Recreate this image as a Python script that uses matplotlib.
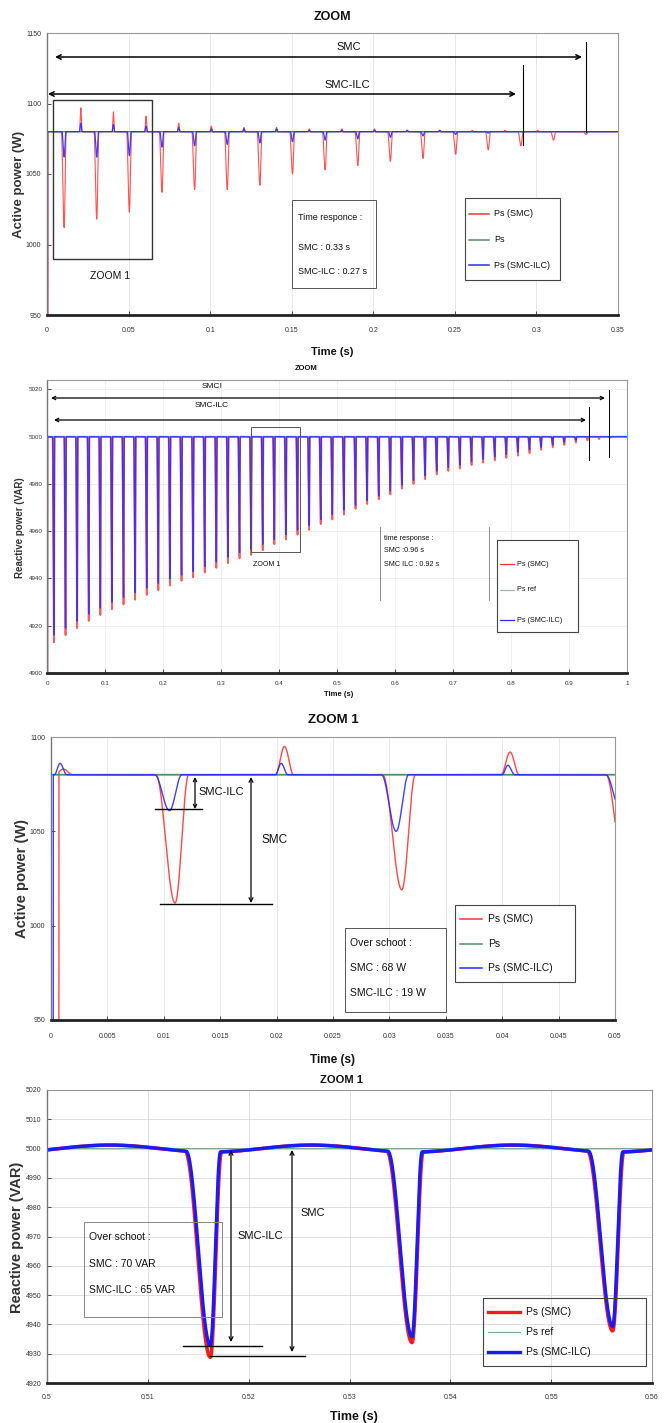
import numpy as np
import matplotlib
matplotlib.use("Agg")
import matplotlib.pyplot as plt
from matplotlib.patches import Rectangle, FancyArrowPatch
from matplotlib.lines import Line2D

plt.rcParams['font.family'] = ['Liberation Sans Narrow', 'Liberation Sans', 'DejaVu Sans']

W, H = 664, 1423

# ---------------- DATA ----------------
# Panel 1 : active power (full view)
p_ref = 1080
p1_dip_times = [0.0105, 0.0305, 0.0505, 0.0705, 0.0905, 0.1105, 0.1305, 0.1505, 0.1705,
                0.1905, 0.2105, 0.2305, 0.2505, 0.2705, 0.2905, 0.3105, 0.3305]
p1_smc_dips = [68, 62, 57, 43, 41, 41, 38, 30, 27, 24, 21, 19, 16, 13, 10, 6, 2]
p1_ilc_dips = [18, 18, 17, 11, 10, 9, 8, 7, 6, 5, 4, 3, 2, 1, 0, 0, 0]
p1_peak_times = [0.0207, 0.0407, 0.0607, 0.0807, 0.1007, 0.1207, 0.1407, 0.1607,
                 0.1807, 0.2007, 0.2207, 0.2407, 0.2607, 0.2807, 0.3007, 0.3207]
p1_smc_peaks = [17, 14, 11, 6, 4, 3, 3, 2, 2, 2, 1, 1, 1, 1, 1, 0]
p1_ilc_peaks = [6, 5, 4, 3, 2, 2, 2, 1, 1, 1, 1, 1, 0, 0, 0, 0]
p1_xticks = [0, 0.05, 0.1, 0.15, 0.2, 0.25, 0.3, 0.35]
p1_xlabels = ['0', '0.05', '0.1', '0.15', '0.2', '0.25', '0.3', '0.35']
p1_yticks = [950, 1000, 1050, 1100, 1150]

# Panel 2 : reactive power (full view)
q_ref = 5000
p2_dip_times = [0.012, 0.032, 0.052, 0.072, 0.092, 0.112, 0.132, 0.152, 0.172, 0.192,
                0.212, 0.232, 0.252, 0.272, 0.292, 0.312, 0.332, 0.352, 0.372, 0.392,
                0.412, 0.432, 0.452, 0.472, 0.492, 0.512, 0.532, 0.552, 0.572, 0.592,
                0.612, 0.632, 0.652, 0.672, 0.692, 0.712, 0.732, 0.752, 0.772, 0.792,
                0.812, 0.832, 0.852, 0.872, 0.892, 0.912, 0.932, 0.952, 0.972]
p2_smc_dips = [87, 84, 81, 78, 75.5, 73, 71, 69, 67, 65, 63, 61, 59.5, 57.5, 55.5, 53.5,
               51.5, 50, 48, 45.5, 43.5, 41.5, 39.5, 37, 35, 33, 30.5, 28.5, 26.5, 24.5,
               22, 20, 18, 16, 14.5, 13.5, 12, 11, 10, 9, 8, 7, 5.5, 4.5, 3.5, 2.5, 1.5, 1, 0.4]
p2_ilc_dips = [84, 81, 78, 75, 72.5, 70, 68, 66, 64, 62, 60, 58.5, 57, 55, 53, 51,
               49, 47.5, 45.5, 43.5, 41.5, 39.5, 37.5, 35, 33, 31, 29, 27, 25, 23,
               20.5, 18.5, 16.5, 14.5, 13, 12, 10.5, 9.5, 8.5, 7.5, 6.5, 5.5, 4.5, 3.5, 2.5, 1.5, 0, 0, 0]
p2_xticks = [0, 0.1, 0.2, 0.3, 0.4, 0.5, 0.6, 0.7, 0.8, 0.9, 1]
p2_xlabels = ['0', '0.1', '0.2', '0.3', '0.4', '0.5', '0.6', '0.7', '0.8', '0.9', '1']
p2_yticks = [4900, 4920, 4940, 4960, 4980, 5000, 5020]

# Panel 3 : active power, ZOOM 1
p3_smc_dip_times = [0.0110, 0.0311, 0.0509]
p3_ilc_dip_times = [0.0105, 0.0306, 0.0505]
p3_smc_dips = [68, 61, 55]
p3_ilc_dips = [19, 30, 19]
p3_smc_peak_times = [0.0011, 0.0207, 0.0407]
p3_ilc_peak_times = [0.0008, 0.0204, 0.0405]
p3_smc_peaks = [3, 15, 12]
p3_ilc_peaks = [6, 6, 5]
p3_xticks = [0, 0.005, 0.01, 0.015, 0.02, 0.025, 0.03, 0.035, 0.04, 0.045, 0.05]
p3_xlabels = ['0', '0.005', '0.01', '0.015', '0.02', '0.025', '0.03', '0.035', '0.04', '0.045', '0.05']
p3_yticks = [950, 1000, 1050, 1100]

# Panel 4 : reactive power, ZOOM 1
p4_dip_times = [0.5162, 0.5362, 0.5561]
p4_smc_dips = [70, 65, 61]
p4_ilc_dips = [66, 63, 59.5]
p4_ripple = 1.2
p4_xticks = [0.5, 0.51, 0.52, 0.53, 0.54, 0.55, 0.56]
p4_xlabels = ['0.5', '0.51', '0.52', '0.53', '0.54', '0.55', '0.56']
p4_yticks = [4920, 4930, 4940, 4950, 4960, 4970, 4980, 4990, 5000, 5010, 5020]

RED = '#ff3434'
BLUE = '#2b2bff'
GREEN = '#4f8f64'


def bumps(t, centers, heights, wl, wr):
    out = np.zeros_like(t)
    for c, h in zip(centers, heights):
        m = (t >= c - wl) & (t < c)
        out[m] += h * 0.5 * (1 + np.cos(np.pi * (t[m] - c) / wl))
        m = (t >= c) & (t <= c + wr)
        out[m] += h * 0.5 * (1 + np.cos(np.pi * (t[m] - c) / wr))
    return out


fig = plt.figure(figsize=(W / 100, H / 100), dpi=100)


def X(px):
    return px / W


def Y(py):
    return 1 - py / H


def add_ax(l, r, t, b):
    return fig.add_axes([X(l), Y(b), (r - l) / W, (b - t) / H])


def arrow(x0, y0, x1, y1, style='<->', lw=1.0, ms=7):
    fig.add_artist(FancyArrowPatch((X(x0), Y(y0)), (X(x1), Y(y1)), transform=fig.transFigure,
                                   arrowstyle=style, mutation_scale=ms, lw=lw, color='black',
                                   shrinkA=0, shrinkB=0))


def line(x0, y0, x1, y1, lw=1.0, color='black'):
    fig.add_artist(Line2D([X(x0), X(x1)], [Y(y0), Y(y1)], transform=fig.transFigure,
                          lw=lw, color=color))


def box(x0, y0, x1, y1, ec='black', lw=0.8, fc=None):
    fig.add_artist(Rectangle((X(x0), Y(y1)), (x1 - x0) / W, (y1 - y0) / H,
                             transform=fig.transFigure, fill=fc is not None,
                             facecolor=fc if fc else 'none', edgecolor=ec, lw=lw))


def txt(x, y, s, fs, ha='center', va='center', weight='normal', rot=0, color='#111111'):
    fig.text(X(x), Y(y), s, fontsize=fs, ha=ha, va=va, fontweight=weight,
             rotation=rot, color=color)


def legend(x0, y0, x1, y1, entries, ys, fs, hx0, hx1, tx, fill=True):
    box(x0, y0, x1, y1, ec='#444444', lw=0.8, fc='white' if fill else None)
    for (lab, col, lw), yy in zip(entries, ys):
        line(hx0, yy, hx1, yy, lw=lw, color=col)
        txt(tx, yy, lab, fs, ha='left')


def style(ax, xlim, ylim, xt, xl, yt, fs, xpad, ypad, gcol='#e4e4e4', gaxis='both'):
    ax.set_xlim(*xlim)
    ax.set_ylim(*ylim)
    ax.set_xticks(xt)
    ax.set_xticklabels(xl)
    ax.set_yticks(yt)
    ax.set_yticklabels([str(v) for v in yt])
    ax.tick_params(axis='both', direction='in', length=3, width=0.6, labelsize=fs,
                   colors='#333333')
    ax.tick_params(axis='x', pad=xpad)
    ax.tick_params(axis='y', pad=ypad)
    for s in ['top', 'right']:
        ax.spines[s].set_color('#999999')
        ax.spines[s].set_linewidth(0.8)
    ax.spines['left'].set_color('#777777')
    ax.spines['left'].set_linewidth(1.0)
    ax.spines['bottom'].set_color('#222222')
    ax.spines['bottom'].set_linewidth(2.0)
    ax.grid(True, axis=gaxis, color=gcol, lw=0.6)
    ax.set_axisbelow(True)


# ================= Panel 1 =================
ax1 = add_ax(47, 618, 33, 315)
t1 = np.linspace(0, 0.35, 35001)
smc1 = p_ref - bumps(t1, p1_dip_times, p1_smc_dips, 0.0017, 0.0013) \
    + bumps(t1, p1_peak_times, p1_smc_peaks, 0.0008, 0.0008)
ilc1 = p_ref - bumps(t1, p1_dip_times, p1_ilc_dips, 0.0013, 0.0011) \
    + bumps(t1, p1_peak_times, p1_ilc_peaks, 0.0008, 0.0008)
smc1[t1 < 0.0006] = 900
ilc1[t1 < 0.0003] = 900
ax1.plot(t1, smc1, color=RED, lw=0.8, alpha=0.85)
ax1.plot(t1, np.full_like(t1, p_ref), color=GREEN, lw=1.0)
ax1.plot(t1, ilc1, color=BLUE, lw=0.9, alpha=0.9)
style(ax1, (0, 0.35), (950, 1150), p1_xticks, p1_xlabels, p1_yticks, 5, 9, 4, gaxis='x')

txt(332, 17, 'ZOOM', 9, weight='bold')
txt(349, 47, 'SMC', 8)
arrow(55, 57, 582, 57, ms=8, lw=1.1)
line(586, 42, 586, 132, lw=0.8)
txt(347, 85, 'SMC-ILC', 8)
arrow(48, 94, 516, 94, ms=8, lw=1.1)
line(523, 65, 523, 145, lw=0.8)
box(53, 100, 152, 259, ec='#333333', lw=1.0)
txt(110, 276, 'ZOOM 1', 7.5)
box(292, 200, 376, 288, ec='#555555', lw=0.7)
txt(298, 218, 'Time responce :', 6.5, ha='left')
txt(298, 247, 'SMC : 0.33 s', 6.5, ha='left')
txt(298, 271, 'SMC-ILC : 0.27 s', 6.5, ha='left')
legend(465, 198, 560, 280,
       [('Ps (SMC)', RED, 1.1), ('Ps', GREEN, 1.1), ('Ps (SMC-ILC)', BLUE, 1.1)],
       [214, 240, 265], 6.5, 469, 489, 494)
txt(19, 184, 'Active power (W)', 9.5, rot=90, weight='bold', color='#333333')
txt(332, 352, 'Time (s)', 8, weight='bold')

# ================= Panel 2 =================
ax2 = add_ax(47, 627, 380, 673)
t2 = np.linspace(0, 1, 100001)
smc2 = q_ref - bumps(t2, p2_dip_times, p2_smc_dips, 0.0024, 0.0011)
ilc2 = q_ref - bumps(t2, p2_dip_times, p2_ilc_dips, 0.0023, 0.0010)
smc2[t2 < 0.0008] = 4880
ilc2[t2 < 0.0006] = 4880
ax2.plot(t2, smc2, color=RED, lw=1.3, alpha=0.8)
ax2.plot(t2, np.full_like(t2, q_ref), color='#9fb8a5', lw=0.8)
ax2.plot(t2, ilc2, color=BLUE, lw=1.0, alpha=0.85)
style(ax2, (0, 1), (4900, 5024), p2_xticks, p2_xlabels, p2_yticks, 4.5, 6, 3, gcol='#ececec')

txt(306, 368, 'ZOOM', 5.5, weight='bold')
txt(212, 387, 'SMC!', 6)
arrow(51, 398, 605, 398, ms=6, lw=0.9)
line(609, 390, 609, 457, lw=0.7)
txt(212, 405, 'SMC-ILC', 6)
arrow(54, 420, 586, 420, ms=6, lw=0.9)
line(589, 407, 589, 460, lw=0.7)
box(251, 427, 300, 552, ec='#555555', lw=0.7)
txt(267, 564, 'ZOOM 1', 5)
line(380, 527, 380, 600, lw=0.6, color='#777777')
line(489, 527, 489, 600, lw=0.6, color='#777777')
txt(384, 538, 'time response :', 5.2, ha='left')
txt(384, 551, 'SMC :0.96 s', 5.2, ha='left')
txt(384, 564, 'SMC ILC : 0.92 s', 5.2, ha='left')
legend(497, 540, 578, 632,
       [('Ps (SMC)', RED, 0.9), ('Ps ref', '#9fb8a5', 0.9), ('Ps (SMC-ILC)', BLUE, 0.9)],
       [564, 590, 620], 5.2, 500, 514, 517)
txt(20, 528, 'Reactive power (VAR)', 7, rot=90, weight='bold', color='#333333')
txt(339, 695, 'Time (s)', 5.5, weight='bold')

# ================= Panel 3 =================
ax3 = add_ax(51, 615, 737, 1020)
t3 = np.linspace(0, 0.05, 20001)
smc3 = p_ref - bumps(t3, p3_smc_dip_times, p3_smc_dips, 0.0017, 0.0012) \
    + bumps(t3, p3_smc_peak_times, p3_smc_peaks, 0.0008, 0.0008)
ilc3 = p_ref - bumps(t3, p3_ilc_dip_times, p3_ilc_dips, 0.0013, 0.0011) \
    + bumps(t3, p3_ilc_peak_times, p3_ilc_peaks, 0.0005, 0.0006)
smc3[t3 < 0.0007] = 900
ilc3[t3 < 0.0002] = 900
ax3.plot(t3, smc3, color=RED, lw=1.0, alpha=0.9)
ax3.plot(t3, np.full_like(t3, p_ref), color=GREEN, lw=1.3)
ax3.plot(t3, ilc3, color=BLUE, lw=1.0, alpha=0.9)
style(ax3, (0, 0.05), (950, 1100), p3_xticks, p3_xlabels, p3_yticks, 5, 9, 4, gaxis='x')

txt(333, 720, 'ZOOM 1', 9.5, weight='bold')
arrow(195, 777, 195, 809, ms=6, lw=0.9)
line(155, 809, 202, 809, lw=1.0)
txt(198, 792, 'SMC-ILC', 8, ha='left')
arrow(251, 777, 251, 903, ms=7, lw=0.9)
line(160, 904, 272, 904, lw=1.0)
txt(262, 840, 'SMC', 8.5, ha='left')
box(345, 928, 446, 1012, ec='#555555', lw=0.7)
txt(350, 943, 'Over schoot :', 7.5, ha='left')
txt(350, 968, 'SMC : 68 W', 7.5, ha='left')
txt(350, 993, 'SMC-ILC : 19 W', 7.5, ha='left')
legend(455, 905, 575, 982,
       [('Ps (SMC)', RED, 1.1), ('Ps', GREEN, 1.1), ('Ps (SMC-ILC)', BLUE, 1.1)],
       [919, 944, 968], 7.5, 460, 482, 488)
txt(22, 878, 'Active power (W)', 10.5, rot=90, weight='bold', color='#333333')
txt(333, 1060, 'Time (s)', 8.5, weight='bold')

# ================= Panel 4 =================
ax4 = add_ax(47, 652, 1090, 1383)
t4 = np.linspace(0.5, 0.56, 12001)
ripple = p4_ripple * np.cos(2 * np.pi * (t4 - (p4_dip_times[0] - 0.01)) / 0.02)
smc4 = q_ref + ripple - bumps(t4, p4_dip_times, p4_smc_dips, 0.0025, 0.0011)
ilc4 = q_ref + ripple - bumps(t4, p4_dip_times, p4_ilc_dips, 0.0024, 0.0010)
ax4.plot(t4, smc4, color='#ff1a1a', lw=2.6)
ax4.plot(t4, np.full_like(t4, q_ref), color='#7fa58a', lw=0.8)
ax4.plot(t4, ilc4, color='#1a1aff', lw=2.4)
style(ax4, (0.5, 0.56), (4920, 5020), p4_xticks, p4_xlabels, p4_yticks, 5, 8, 4, gcol='#d9d9d9')

txt(341, 1080, 'ZOOM 1', 8, weight='bold')
box(84, 1222, 222, 1317, ec='#888888', lw=0.7)
txt(89, 1237, 'Over schoot :', 7.5, ha='left')
txt(89, 1264, 'SMC : 70 VAR', 7.5, ha='left')
txt(89, 1290, 'SMC-ILC : 65 VAR', 7.5, ha='left')
arrow(231, 1150, 231, 1342, ms=7, lw=0.9)
line(183, 1346, 262, 1346, lw=1.0)
txt(237, 1236, 'SMC-ILC', 8, ha='left')
arrow(292, 1150, 292, 1352, ms=7, lw=0.9)
line(210, 1356, 305, 1356, lw=1.0)
txt(300, 1213, 'SMC', 8, ha='left')
legend(483, 1298, 646, 1366,
       [('Ps (SMC)', '#ff1a1a', 2.4), ('Ps ref', '#7fa58a', 0.8), ('Ps (SMC-ILC)', '#1a1aff', 2.4)],
       [1312, 1332, 1352], 7.5, 488, 520, 526, fill=False)
txt(17, 1237, 'Reactive power (VAR)', 10.5, rot=90, weight='bold', color='#333333')
txt(354, 1417, 'Time (s)', 9, weight='bold')

fig.savefig('out.png', dpi=100)
